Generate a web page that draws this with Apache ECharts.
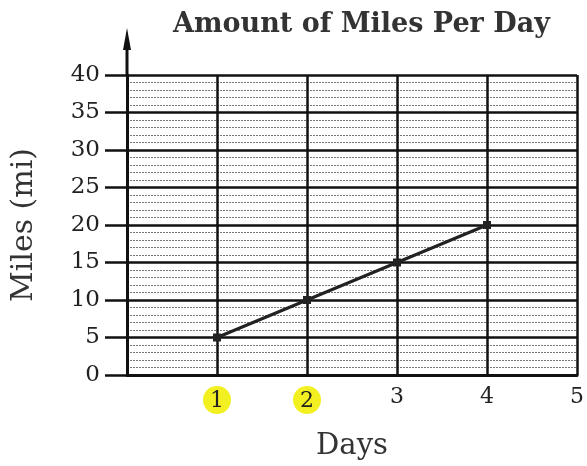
<!DOCTYPE html>
<html><head><meta charset="utf-8">
<script src="https://cdn.jsdelivr.net/npm/echarts@6/dist/echarts.min.js"></script>
<style>html,body{margin:0;padding:0;background:#fff}#c{width:587px;height:466px}</style>
</head><body><div id="c"></div>
<script>
var days = [1, 2, 3, 4];
var miles = [5, 10, 15, 20];
var xTicks = [1, 2, 3, 4, 5];
var highlighted = [1, 2];
var title = 'Amount of Miles Per Day';
var xName = 'Days';
var yName = 'Miles (mi)';

var serif = '"DejaVu Serif", "Liberation Serif", serif';
var chart = echarts.init(document.getElementById('c'));
chart.setOption({
  backgroundColor: '#fff',
  animation: false,
  title: {text: title, left: 168, top: 6,
    textStyle: {fontFamily: serif, fontSize: 27, fontWeight: 'bold', color: '#333'}},
  grid: {left: 127, right: 10, top: 75, bottom: 91},
  xAxis: {
    type: 'value', min: 0, max: 5, interval: 1,
    name: xName, nameLocation: 'middle', nameGap: 57,
    nameTextStyle: {fontFamily: serif, fontSize: 29, color: '#333'},
    axisLine: {show: true, lineStyle: {color: '#111', width: 3}},
    axisTick: {show: false},
    axisLabel: {margin: 11, fontFamily: serif, fontSize: 22, color: '#222',
      formatter: function (v) {
        if (xTicks.indexOf(v) < 0) return '';
        return highlighted.indexOf(v) >= 0 ? '{h|' + v + '}' : String(v);
      },
      rich: {h: {backgroundColor: '#f2f020', borderRadius: 15, padding: [4, 7, 2, 7],
        fontFamily: serif, fontSize: 22, color: '#222'}}},
    splitLine: {show: true, lineStyle: {color: '#111', width: 2.5}}
  },
  yAxis: {
    type: 'value', min: 0, max: 40, interval: 5,
    name: yName, nameLocation: 'middle', nameGap: 88, nameRotate: 90,
    nameTextStyle: {fontFamily: serif, fontSize: 30, color: '#333'},
    axisLine: {show: true, lineStyle: {color: '#111', width: 3}},
    axisTick: {show: true, length: 22, lineStyle: {color: '#111', width: 2.5}},
    axisLabel: {margin: 27, fontFamily: serif, fontSize: 23, color: '#222'},
    splitLine: {show: true, lineStyle: {color: '#111', width: 2.5}},
    minorTick: {show: false, splitNumber: 5},
    minorSplitLine: {show: true, lineStyle: {color: '#777', width: 1, type: [2, 1]}}
  },
  graphic: [
    {type: 'line', shape: {x1: 127, y1: 75, x2: 127, y2: 40}, style: {stroke: '#111', lineWidth: 3}},
    {type: 'polygon', shape: {points: [[127, 28], [131, 50], [123, 50]]}, style: {fill: '#111'}}
  ],
  series: [{
    type: 'line',
    data: days.map(function (d, i) { return [d, miles[i]]; }),
    lineStyle: {color: '#222', width: 3},
    itemStyle: {color: '#222'},
    symbol: 'rect', symbolSize: 8
  }]
});
</script></body></html>
